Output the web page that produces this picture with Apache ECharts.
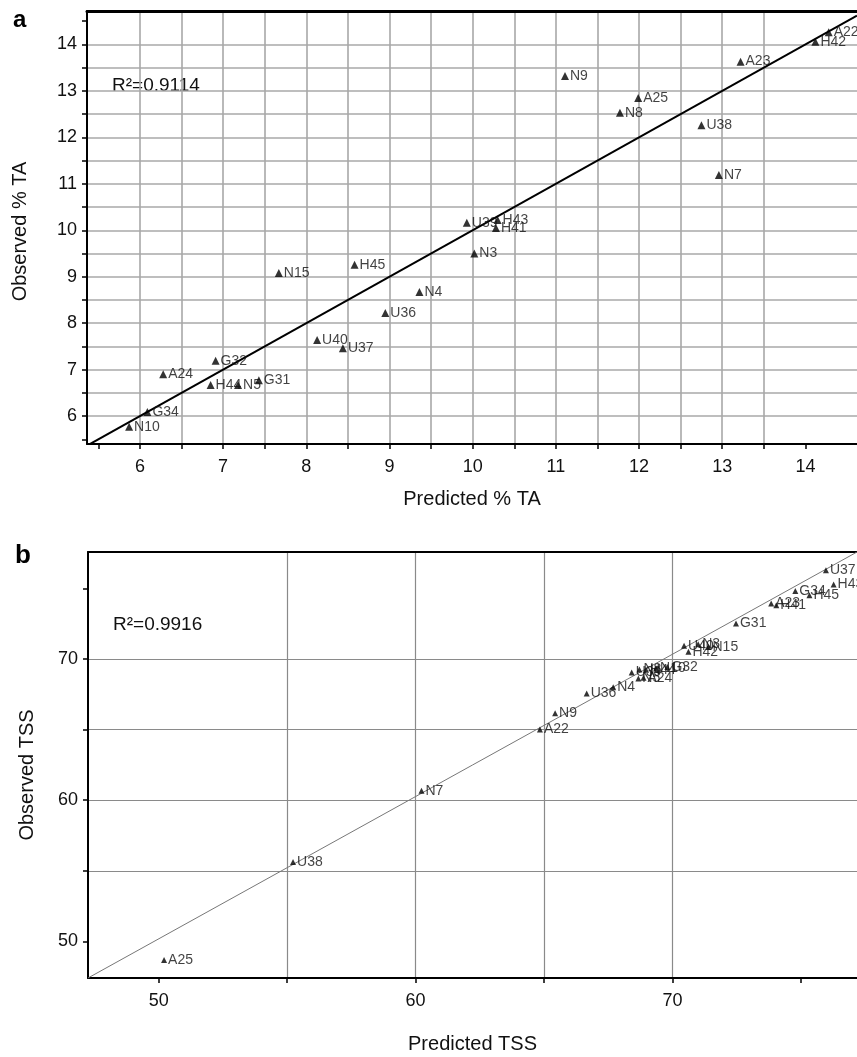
<!DOCTYPE html>
<html>
<head>
<meta charset="utf-8">
<script src="https://cdn.jsdelivr.net/npm/echarts@6/dist/echarts.min.js"></script>
<style>
html,body{margin:0;padding:0;background:#fff;}
#chart{width:857px;height:1057px;}
</style>
</head>
<body>
<div id="chart"></div>
<script>
// ---- Panel a: % TA ----
const namesA = ['A22','H42','A23','N9','A25','N8','U38','N7','U39','H43','H41','N3','N4','N15','H45','U36','U40','U37','G32','A24','H44','N5','G31','G34','N10'];
const predA  = [14.28,14.12,13.22,11.11,11.99,11.77,12.75,12.96,9.93,10.30,10.28,10.02,9.36,7.67,8.58,8.95,8.13,8.44,6.91,6.28,6.85,7.18,7.43,6.09,5.87];
const obsA   = [14.26,14.06,13.63,13.32,12.85,12.53,12.26,11.19,10.16,10.22,10.05,9.50,8.67,9.08,9.26,8.22,7.64,7.46,7.19,6.90,6.67,6.67,6.77,6.09,5.77];
const fitA   = [[5.37,5.37],[14.62,14.62]];
const ticksAx = [5.5,6,6.5,7,7.5,8,8.5,9,9.5,10,10.5,11,11.5,12,12.5,13,13.5,14];
const labelsAx = [6,7,8,9,10,11,12,13,14];
const ticksAy = [5.5,6,6.5,7,7.5,8,8.5,9,9.5,10,10.5,11,11.5,12,12.5,13,13.5,14,14.5];
const labelsAy = [6,7,8,9,10,11,12,13,14];
const rangeAx = [5.364, 14.62];
const rangeAy = [5.40, 14.72];

// ---- Panel b: TSS ----
const namesB = ['A25','U38','N7','A22','N9','U36','N4','U39','N8','H44','N10','N5','A24','G32','U40','H42','N3','N15','G31','A23','H41','G34','H45','U37','H43'];
const predB  = [50.21,55.23,60.23,64.84,65.43,66.66,67.69,68.41,68.71,68.97,69.36,68.67,68.87,69.80,70.45,70.62,71.00,71.40,72.47,73.84,74.04,74.78,75.33,75.97,76.27];
const obsB   = [48.68,55.63,60.66,65.00,66.16,67.55,68.00,69.04,69.25,69.24,69.32,68.61,68.66,69.43,70.93,70.50,71.04,70.85,72.50,73.92,73.80,74.81,74.51,76.28,75.27];
const fitB   = [[47.25,47.41],[77.18,77.57]];
const ticksB = [50,55,60,65,70,75];
const labelsB = [50,60,70];
const rangeBx = [47.25, 77.18];
const rangeBy = [47.41, 77.57];

const FONT = '"Liberation Sans", Arial, sans-serif';

function pts(names, xs, ys) {
  return names.map((n, i) => ({ name: n, value: [xs[i], ys[i]] }));
}

function bottomAxis(grid, range, ticks, labels, name, gridColor, gridWidth, nameGap) {
  return {
    type: 'value', gridIndex: grid, position: 'bottom',
    min: range[0], max: range[1],
    name: name, nameLocation: 'middle', nameGap: nameGap,
    nameTextStyle: { fontFamily: FONT, fontSize: 20, color: '#111' },
    axisLine: { show: true, onZero: false, lineStyle: { color: '#000', width: 2 } },
    axisTick: { show: true, inside: false, length: 5, customValues: ticks, lineStyle: { color: '#000', width: 1.5 } },
    axisLabel: { customValues: labels, fontFamily: FONT, fontSize: 18, color: '#111', margin: 14 },
    splitLine: { show: true, showMinLine: false, showMaxLine: false, lineStyle: { color: gridColor, width: gridWidth } }
  };
}
function leftAxis(grid, range, ticks, labels, name, gridColor, gridWidth, nameGap, namePad) {
  return {
    type: 'value', gridIndex: grid, position: 'left',
    min: range[0], max: range[1],
    name: name, nameLocation: 'middle', nameGap: nameGap,
    nameTextStyle: { fontFamily: FONT, fontSize: 20, color: '#111', padding: namePad },
    axisLine: { show: true, onZero: false, lineStyle: { color: '#000', width: 2 } },
    axisTick: { show: true, inside: false, length: 5, customValues: ticks, lineStyle: { color: '#000', width: 1.5 } },
    axisLabel: { customValues: labels, fontFamily: FONT, fontSize: 18, color: '#111', margin: 10 },
    splitLine: { show: true, showMinLine: false, showMaxLine: false, lineStyle: { color: gridColor, width: gridWidth } }
  };
}
function topBorder(grid, range, w) {
  return {
    type: 'value', gridIndex: grid, position: 'top',
    min: range[0], max: range[1],
    axisLine: { show: true, onZero: false, lineStyle: { color: '#000', width: w } },
    axisTick: { show: false }, axisLabel: { show: false }, splitLine: { show: false }
  };
}

const chart = echarts.init(document.getElementById('chart'), null, { renderer: 'canvas' });
chart.setOption({
  animation: false,
  backgroundColor: '#fff',
  grid: [
    { left: 87, right: 0, top: 11, height: 433 },
    { left: 88, right: 0, top: 552, height: 426 }
  ],
  xAxis: [
    bottomAxis(0, rangeAx, ticksAx, labelsAx, 'Predicted % TA', '#a8a8a8', 1.6, 45),
    topBorder(0, rangeAx, 3),
    bottomAxis(1, rangeBx, ticksB, labelsB, 'Predicted TSS', '#8a8a8a', 1.2, 56),
    topBorder(1, rangeBx, 2)
  ],
  yAxis: [
    leftAxis(0, rangeAy, ticksAy, labelsAy, 'Observed % TA', '#a8a8a8', 1.6, 57, [0, 8, 0, 0]),
    leftAxis(1, rangeBy, ticksB, labelsB, 'Observed TSS', '#8a8a8a', 1.2, 51, [0, 20, 0, 0])
  ],
  graphic: [
    { type: 'text', left: 13, top: 8, style: { text: 'a', fontFamily: FONT, fontSize: 24, fontWeight: 'bold', fill: '#000' } },
    { type: 'text', left: 15, top: 543, style: { text: 'b', fontFamily: FONT, fontSize: 26, fontWeight: 'bold', fill: '#000' } },
    { type: 'text', left: 112, top: 76, style: { text: 'R²=0.9114', fontFamily: FONT, fontSize: 19, fill: '#111' } },
    { type: 'text', left: 113, top: 615, style: { text: 'R²=0.9916', fontFamily: FONT, fontSize: 19, fill: '#111' } }
  ],
  series: [
    {
      type: 'line', xAxisIndex: 0, yAxisIndex: 0, data: fitA, symbol: 'none',
      lineStyle: { color: '#000', width: 2 }, z: 3, silent: true
    },
    {
      type: 'scatter', xAxisIndex: 0, yAxisIndex: 0, data: pts(namesA, predA, obsA),
      symbol: 'triangle', symbolSize: 8, itemStyle: { color: '#000' }, z: 4,
      label: { show: true, position: 'right', distance: 1, formatter: '{b}', fontFamily: FONT, fontSize: 14, color: '#111' },
      labelLayout: { hideOverlap: false }
    },
    {
      type: 'line', xAxisIndex: 2, yAxisIndex: 1, data: fitB, symbol: 'none',
      lineStyle: { color: '#777', width: 1 }, z: 3, silent: true
    },
    {
      type: 'scatter', xAxisIndex: 2, yAxisIndex: 1, data: pts(namesB, predB, obsB),
      symbol: 'triangle', symbolSize: 6, itemStyle: { color: '#000' }, z: 4,
      label: { show: true, position: 'right', distance: 1, formatter: '{b}', fontFamily: FONT, fontSize: 14, color: '#111' },
      labelLayout: { hideOverlap: false }
    }
  ]
});
</script>
</body>
</html>
